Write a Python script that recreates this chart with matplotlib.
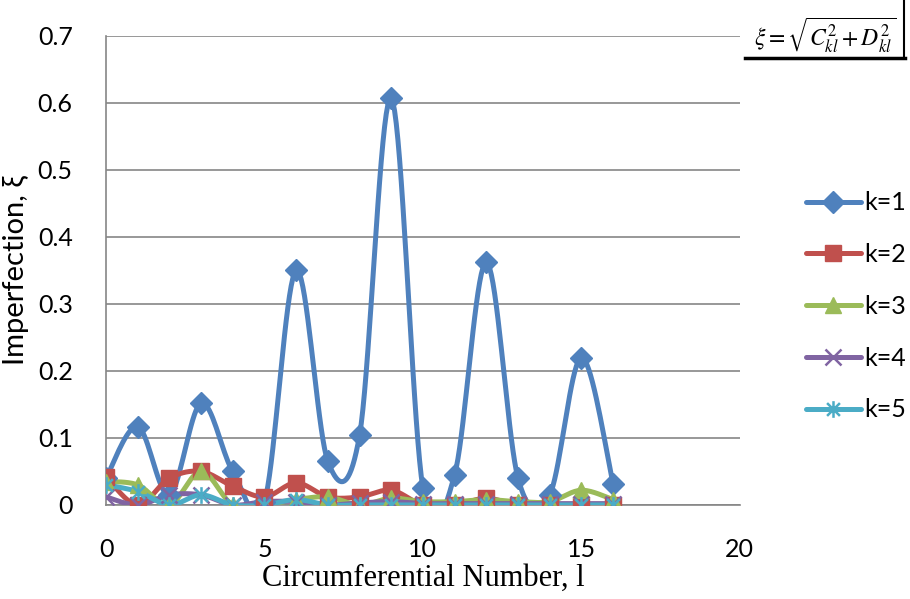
import numpy as np
import matplotlib
matplotlib.use('Agg')
import matplotlib.pyplot as plt
from matplotlib.path import Path

# circumferential number l
l = [0, 1, 2, 3, 4, 5, 6, 7, 8, 9, 10, 11, 12, 13, 14, 15, 16]

k1 = [0.040, 0.117, 0.015, 0.152, 0.050, 0.005, 0.350, 0.065, 0.104, 0.607,
      0.025, 0.045, 0.362, 0.040, 0.015, 0.220, 0.032]
k2 = [0.042, 0.000, 0.040, 0.050, 0.028, 0.012, 0.033, 0.012, 0.012, 0.022,
      0.000, 0.000, 0.010, 0.000, 0.000, 0.000, 0.000]
k3 = [0.035, 0.030, 0.000, 0.050, 0.000, 0.000, 0.008, 0.012, 0.000, 0.010,
      0.005, 0.005, 0.008, 0.005, 0.005, 0.022, 0.008]
k4 = [0.012, 0.000, 0.015, 0.015, 0.000, 0.005, 0.005, 0.000, 0.003, 0.005,
      0.002, 0.002, 0.002, 0.002, 0.002, 0.002, 0.002]
k5 = [0.030, 0.020, 0.000, 0.015, 0.000, 0.000, 0.008, 0.000, 0.000, 0.000,
      0.000, 0.000, 0.000, 0.000, 0.000, 0.000, 0.000]

series = [('k=1', k1), ('k=2', k2), ('k=3', k3), ('k=4', k4), ('k=5', k5)]
colors = ['#4F81BD', '#C0504D', '#9BBB59', '#8064A2', '#4BACC6']

# excel-like asterisk: x with vertical bar
star = Path([(-1, -1), (1, 1), (-1, 1), (1, -1), (0, -1.3), (0, 1.3)],
            [Path.MOVETO, Path.LINETO, Path.MOVETO, Path.LINETO, Path.MOVETO, Path.LINETO])
markers = ['D', 's', '^', 'x', star]
msizes = [11, 12, 12, 12, 12]


def smooth(x, y, n=20):
    # excel style smoothed line (bezier through points, tension 1/6)
    x = np.asarray(x, float)
    y = np.asarray(y, float)
    px = np.concatenate([[x[0]], x, [x[-1]]])
    py = np.concatenate([[y[0]], y, [y[-1]]])
    xs, ys = [], []
    t = np.linspace(0, 1, n)
    for i in range(1, len(px) - 2):
        p0 = np.array([px[i], py[i]])
        p3 = np.array([px[i + 1], py[i + 1]])
        c1 = p0 + (p3 - np.array([px[i - 1], py[i - 1]])) / 6
        c2 = p3 - (np.array([px[i + 2], py[i + 2]]) - p0) / 6
        b = ((1 - t) ** 3)[:, None] * p0 + (3 * (1 - t) ** 2 * t)[:, None] * c1 \
            + (3 * (1 - t) * t ** 2)[:, None] * c2 + (t ** 3)[:, None] * p3
        xs.extend(b[:, 0])
        ys.extend(b[:, 1])
    return xs, ys


fig = plt.figure(figsize=(9.1, 5.99), dpi=100)
ax = fig.add_axes([0.1165, 0.157, 0.6965, 0.783])

for (name, vals), c, m, ms in zip(series, colors, markers, msizes):
    sx, sy = smooth(l, vals)
    ax.plot(sx, sy, color=c, lw=3.6, solid_capstyle='round', zorder=3)
    mew = 1.8 if m in ('x', star) else 1
    ax.plot(l, vals, linestyle='none', marker=m, color=c, markersize=ms,
            markeredgewidth=mew, zorder=4)
    ax.plot([], [], color=c, lw=3.6, marker=m, markersize=ms,
            markeredgewidth=mew, solid_capstyle='round', label=name)

ax.set_xlim(0, 20)
ax.set_ylim(0, 0.7)
ax.set_xticks([0, 5, 10, 15, 20])
ax.set_yticks(np.arange(0, 0.71, 0.1))
ax.set_yticklabels(['0', '0.1', '0.2', '0.3', '0.4', '0.5', '0.6', '0.7'])
ax.yaxis.grid(True, color='#868686', lw=1.2)
ax.set_axisbelow(True)
for s in ['top', 'right']:
    ax.spines[s].set_visible(False)
for s in ['left', 'bottom']:
    ax.spines[s].set_color('#868686')
    ax.spines[s].set_linewidth(1.2)
ax.tick_params(length=0, labelsize=18)
for lab in ax.get_xticklabels() + ax.get_yticklabels():
    lab.set_family('Lato')
ax.tick_params(axis='y', pad=24)
ax.tick_params(axis='x', pad=24)

ax.set_ylabel('Imperfection, \u03be', fontsize=21, family='Lato', labelpad=6)
ax.set_xlabel('Circumferential Number, l', fontsize=22, family='Liberation Serif', labelpad=2)

leg = ax.legend(loc='upper left', bbox_to_anchor=(1.088, 0.69), frameon=False,
                prop={'family': 'Lato', 'size': 18}, handlelength=2.2,
                handletextpad=0.15, labelspacing=1.15, borderaxespad=0)

# formula box
fig.text(0.907, 0.94, r'$\xi=\sqrt{C_{kl}^{2}+D_{kl}^{2}}$', ha='center', va='center',
         fontsize=17, math_fontfamily='stix')
fig.add_artist(plt.Line2D([0.819, 0.995], [0.903, 0.903], color='black', lw=2.5))
fig.add_artist(plt.Line2D([0.993, 0.993], [0.903, 0.998], color='black', lw=1.5))

fig.savefig('out.png', dpi=100)
